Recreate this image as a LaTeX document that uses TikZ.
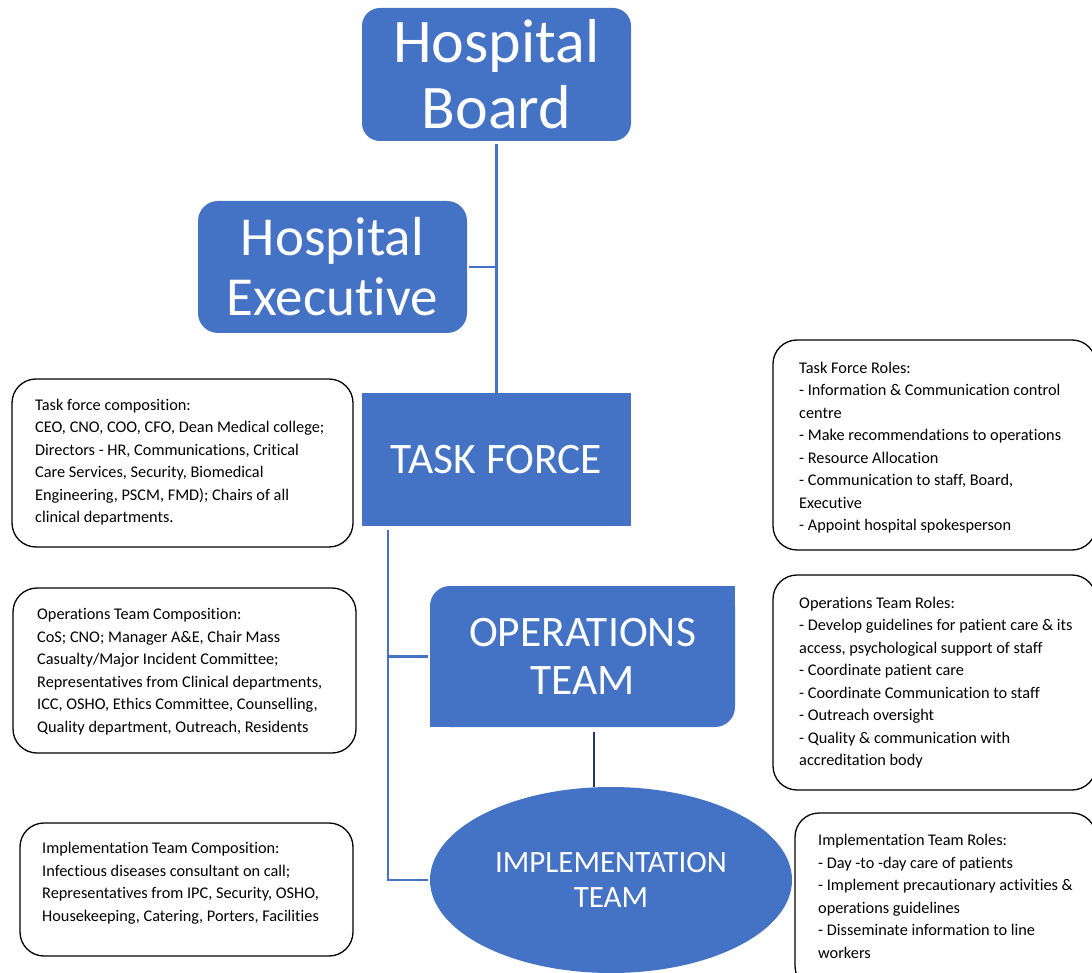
\documentclass[tikz,border=0pt]{standalone}
\usepackage{fontspec}
\setmainfont{Carlito}[Ligatures={NoCommon}]
\usetikzlibrary{shapes.geometric}
\definecolor{obl}{HTML}{4472C4}
\definecolor{navy}{HTML}{203864}
\begin{document}
\begin{tikzpicture}[x=1pt,y=-1pt,
  blueshape/.style={fill=obl, text=white, inner sep=0pt, align=center},
  conn/.style={draw=obl, line width=2.2pt},
  infobox/.style={draw=black, line width=1.3pt, rounded corners=24pt, inner sep=0pt, fill=white},
  infotext/.style={anchor=west, align=left, inner sep=0pt, font=\fontsize{16.3}{22.5}\selectfont}]
\useasboundingbox (0,0) rectangle (1092,973);
\fill[white] (0,0) rectangle (1092,973);

% main blue shapes
\node[blueshape, rounded corners=18pt, minimum width=269pt, minimum height=133pt,
  font=\fontsize{62}{66}\selectfont] (board) at (496.5,74.5) {Hospital\\Board};
\node[blueshape, rounded corners=20pt, minimum width=269pt, minimum height=132pt,
  font=\fontsize{55}{60}\selectfont] (exec) at (332.5,267) {Hospital\\Execut\kern0pt ive};
\node[blueshape, minimum width=269pt, minimum height=133pt,
  font=\fontsize{43.5}{48}\selectfont] (tf) at (496.5,459.5) {TASK FORCE};

\fill[obl, rounded corners=20pt] (430,586) rectangle (735,727);
\fill[obl] (712,586) rectangle (735,609);
\fill[obl] (430,704) rectangle (453,727);
\node[text=white, inner sep=0pt, align=center, minimum width=305pt, minimum height=141pt,
  font=\fontsize{43.5}{48}\selectfont] (ops) at (582.5,656.5) {OPERATIONS\\TEAM};

\node[ellipse, blueshape, minimum width=362pt, minimum height=186pt,
  font=\fontsize{31}{35}\selectfont] (impl) at (611,880) {IMPLEMENTATION\\TEAM};

% connectors
\draw[conn] ([yshift=-3pt]board.south) -- (tf.north);
\draw[conn] ([xshift=2pt]exec.east) -- (exec.east -| board.south);
\coordinate (trunk) at (388,530);
\draw[conn] (trunk) |- ([xshift=-2pt]ops.west);
\draw[conn] (trunk) |- ([xshift=-2pt]impl.west);
\draw[draw=navy, line width=2.2pt] ([xshift=11.5pt,yshift=-5pt]ops.south) -- ([xshift=11.5pt]ops.south |- impl.north);

% left info boxes
\node[infobox, minimum width=341pt, minimum height=168pt] (tfc) at (182.5,463) {};
\node[infotext] (tfct) at (35,462) {Task force composition:\\
CEO, CNO, COO, CFO, Dean Medical college;\\
Directors - HR, Communications, Critical\\
Care Services, Security, Biomedical\\
Engineering, PSCM, FMD); Chairs of all\\
clinical departments.};

\node[infobox, minimum width=343pt, minimum height=165pt] (opc) at (184.5,670.5) {};
\node[infotext] (opct) at (37,671.5) {Operations Team Composition:\\
CoS; CNO; Manager A\&E, Chair Mass\\
Casualty/Major Incident Committee;\\
Representatives from Clinical departments,\\
ICC, OSHO, Ethics Committee, Counselling,\\
Quality department, Outreach, Residents};

\node[infobox, minimum width=333pt, minimum height=133pt] (imc) at (186.5,889.5) {};
\node[infotext] (imct) at (42,883) {Implementation Team Composition:\\
Infectious diseases consultant on call;\\
Representatives from IPC, Security, OSHO,\\
Housekeeping, Catering, Porters, Facilities};

% right info boxes
\node[infobox, minimum width=323pt, minimum height=210pt] (tfr) at (934.5,445) {};
\node[infotext] (tfrt) at (799,447.5) {Task Force Roles:\\
- Information \& Communication control\\
centre\\
- Make recommendations to operations\\
- Resource Allocation\\
- Communication to staff, Board,\\
Executive\\
- Appoint hospital spokesperson};

\node[infobox, minimum width=323pt, minimum height=215pt] (opr) at (934.5,682.5) {};
\node[infotext] (oprt) at (799,682.5) {Operations Team Roles:\\
- Develop guidelines for patient care \& its\\
access, psychological support of staff\\
- Coordinate patient care\\
- Coordinate Communication to staff\\
- Outreach oversight\\
- Quality \& communication with\\
accreditation body};

\node[infobox, minimum width=301pt, minimum height=177pt] (imr) at (945.5,901.5) {};
\node[infotext] (imrt) at (818,896.5) {Implementation Team Roles:\\
- Day -to -day care of patients\\
- Implement precautionary activities \&\\
operations guidelines\\
- Disseminate information to line\\
workers};
\end{tikzpicture}
\end{document}
